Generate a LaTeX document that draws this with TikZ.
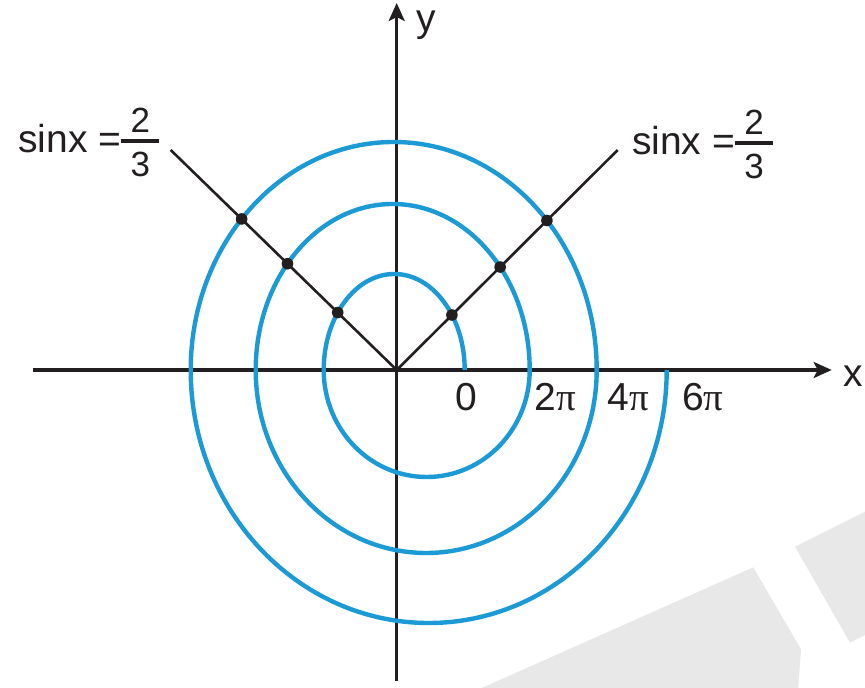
\documentclass[tikz,border=0pt]{standalone}
\usepackage{fontspec}
\setmainfont{Liberation Sans}
\newfontfamily\greekserif{Liberation Serif}
\usetikzlibrary{arrows.meta,intersections}
\definecolor{spiralblue}{HTML}{1B9AD6}
\definecolor{inkblack}{HTML}{231F20}
\definecolor{markgray}{HTML}{E8E8E8}

\newcommand\fracsize{\fontsize{17.5}{17.5}\selectfont}
\newcommand\pisym{{\greekserif π}}
% stacked fraction with a long bar, as printed
\newcommand\barfrac[2]{$\vcenter{\offinterlineskip\halign{\hfil##\hfil\cr
  \fracsize #1\cr\noalign{\kern3pt}
  \vrule width 19pt height 2pt depth 0pt\cr\noalign{\kern4.6pt}
  \fracsize #2\cr}}$}

\begin{document}
\begin{tikzpicture}[
  x=0.5pt, y=0.5pt,
  font=\fontsize{19.5}{23}\selectfont,
  axis/.style={draw=inkblack, line width=1.6pt,
    -{Stealth[length=9pt, width=8pt, inset=2pt]}},
  ray/.style={draw=inkblack, line width=1.3pt},
  spiral/.style={draw=spiralblue, line width=2.2pt},
  ticklabel/.style={inner sep=0pt, text=inkblack},
  sinlabel/.style={inner sep=0pt, text=inkblack, anchor=base west}
]
\useasboundingbox (-396.7,-318) rectangle (468.3,370);

% watermark shapes
\fill[markgray] (85,-318) -- (356.6,-197.3) -- (404.3,-279.3) -- (401.6,-318) -- cycle;
\fill[markgray] (398.3,-176.7) -- (468.3,-141.7) -- (468.3,-265) -- (453.3,-272.7) -- cycle;

\coordinate (O) at (0,0);
\coordinate (xstart) at (-363.4,0);
\coordinate (xend) at (435,0);
\coordinate (ystart) at (0,-310.7);
\coordinate (yend) at (0,367);
\coordinate (lend) at (-226,220);
\coordinate (rend) at (221,220);

\draw[axis] (xstart) -- (xend);
\draw[axis] (ystart) -- (yend);

\draw[spiral, name path=spiral] (68,0)
  arc[start angle=0, end angle=180, x radius=70.5, y radius=96]
  arc[start angle=180, end angle=360, x radius=103, y radius=107]
  arc[start angle=0, end angle=180, x radius=137, y radius=166]
  arc[start angle=180, end angle=360, x radius=170.5, y radius=183]
  arc[start angle=0, end angle=180, x radius=203, y radius=228]
  arc[start angle=180, end angle=360, x radius=238, y radius=253];

\draw[ray, name path=lray] (O) -- (lend);
\draw[ray, name path=rray] (O) -- (rend);

\fill[inkblack, name intersections={of=spiral and lray, name=l, total=\tl}]
  \foreach \i in {1,...,\tl} {(l-\i) circle (5.8)};
\fill[inkblack, name intersections={of=spiral and rray, name=r, total=\tr}]
  \foreach \i in {1,...,\tr} {(r-\i) circle (5.8)};

\node[ticklabel] (ylabel) at (29.3,345) {y};
\node[ticklabel] (xlabel) at (456.3,-6) {x};
\node[ticklabel] (zero) at (70,-26.7) {0};
\node[ticklabel] (twopi) at (158.3,-27) {2\pisym};
\node[ticklabel] (fourpi) at (231.3,-27) {4\pisym};
\node[ticklabel] (sixpi) at (306,-27) {6\pisym};

\node[sinlabel] (lsin) at (-378.7,217.3) {sinx =\barfrac{2}{3}};
\node[sinlabel] (rsin) at (235,215) {sinx =\barfrac{2}{3}};
\end{tikzpicture}
\end{document}
